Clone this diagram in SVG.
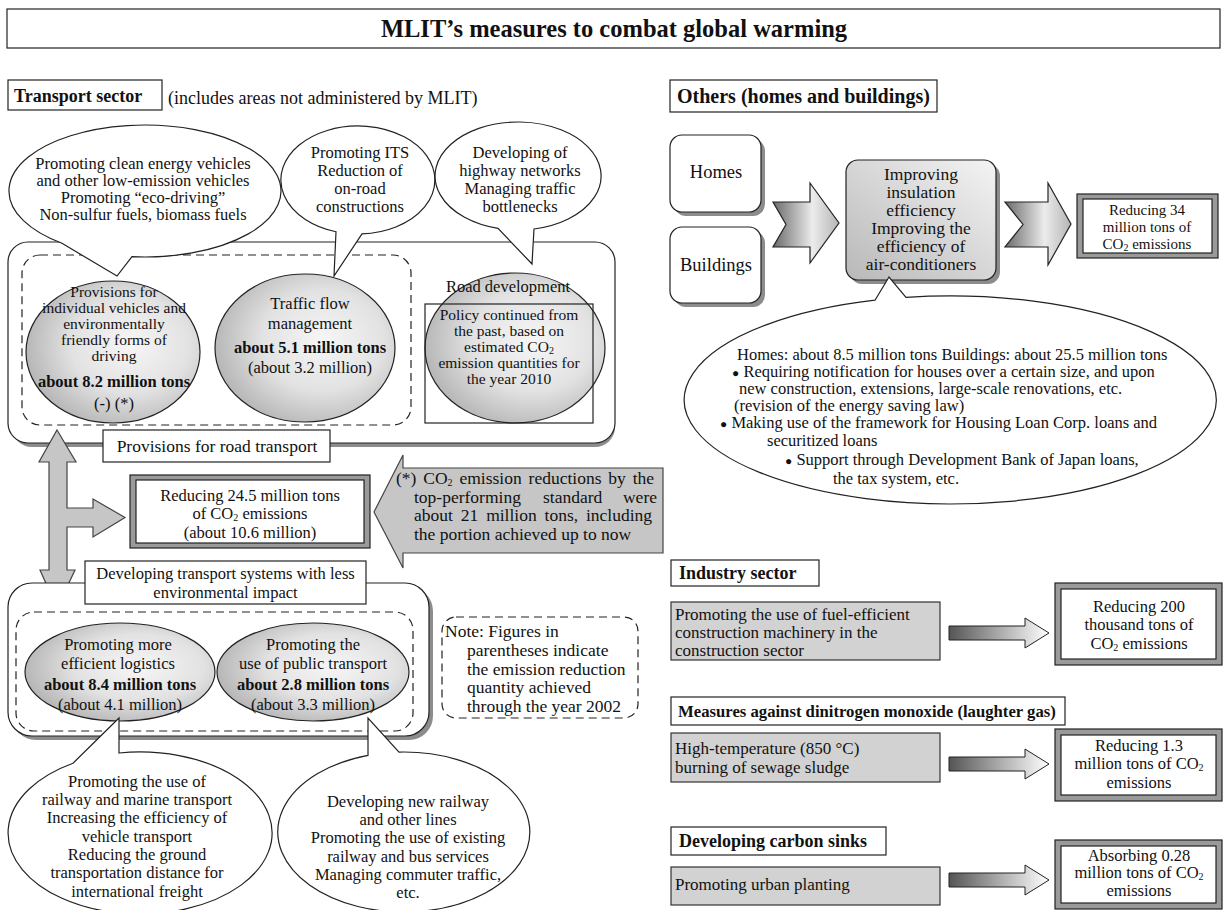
<svg xmlns="http://www.w3.org/2000/svg" width="1227" height="910" viewBox="0 0 1227 910">
<defs>
<radialGradient id="gCirc" cx="0.6" cy="0.45" r="0.62">
<stop offset="0" stop-color="#f6f6f6"/><stop offset="0.55" stop-color="#e2e2e2"/><stop offset="1" stop-color="#b4b4b4"/>
</radialGradient>
<linearGradient id="gBox" x1="1" y1="0" x2="0" y2="1">
<stop offset="0" stop-color="#f4f4f4"/><stop offset="1" stop-color="#b8b8b8"/>
</linearGradient>
<linearGradient id="gChev" x1="0" y1="0" x2="1" y2="0">
<stop offset="0" stop-color="#6a6a6a"/><stop offset="0.6" stop-color="#ececec"/><stop offset="1" stop-color="#b4b4b4"/>
</linearGradient>
<linearGradient id="gSmall" x1="0" y1="0" x2="1" y2="0">
<stop offset="0" stop-color="#555"/><stop offset="1" stop-color="#fff"/>
</linearGradient>
</defs>
<style>
text{font-family:"Liberation Serif","Times New Roman",serif;font-size:16.5px;fill:#111}
.b{font-weight:bold}
.h{font-weight:bold;font-size:18px}
.m{text-anchor:middle}
.t{font-size:15.5px}
.ln{fill:none;stroke:#222;stroke-width:1.2}
.box{fill:#fff;stroke:#222;stroke-width:1.2}
.sh{fill:#8c8c8c}
.dash{fill:none;stroke:#222;stroke-width:1.2;stroke-dasharray:8 5}
.circ{fill:url(#gCirc);stroke:#222;stroke-width:1.2}
.call{fill:#fff;stroke:#222;stroke-width:1.2}
.gray{fill:#d2d2d2;stroke:#333;stroke-width:1.2}
.frame{fill:#9a9a9a;stroke:#222;stroke-width:1.2}
.chev{fill:url(#gChev);stroke:#222;stroke-width:1.2}
.sarr{fill:url(#gSmall);stroke:#222;stroke-width:1}
.garr{fill:#c6c6c6;stroke:#444;stroke-width:1.2}
.sub{font-size:10px}
.big{font-size:17.5px}
</style>

<g id="title">
<rect class="box" x="7" y="9" width="1213" height="39"/>
<text class="b m" x="614" y="37" style="font-size:24.5px">MLIT’s measures to combat global warming</text>
</g>

<!-- ===== Transport sector ===== -->
<g id="transport-header">
<rect class="box" x="8" y="80" width="154" height="30"/>
<text class="h" x="14" y="102">Transport sector</text>
<text class="big" x="168" y="104" style="font-size:18px">(includes areas not administered by MLIT)</text>
</g>

<g id="road-group">
<rect class="sh" x="12" y="246" width="603" height="201" rx="20"/>
<rect class="box" x="8" y="242" width="607" height="201" rx="20"/>
<rect class="dash" x="22" y="255" width="389" height="170" rx="18"/>
</g>

<g id="circle-vehicles">
<ellipse class="circ" cx="113" cy="352" rx="87" ry="71"/>
<text class="m t" x="114" y="297">Provisions for</text>
<text class="m t" x="114" y="313">individual vehicles and</text>
<text class="m t" x="114" y="329">environmentally</text>
<text class="m t" x="114" y="345">friendly forms of</text>
<text class="m t" x="114" y="361">driving</text>
<text class="b m" x="114" y="387">about 8.2 million tons</text>
<text class="m" x="114" y="409">(-) (*)</text>
</g>

<g id="circle-traffic">
<ellipse class="circ" cx="305" cy="348" rx="90" ry="74"/>
<text class="m" x="310" y="309">Traffic flow</text>
<text class="m" x="310" y="329">management</text>
<text class="b m" x="310" y="353">about 5.1 million tons</text>
<text class="m" x="310" y="373">(about 3.2 million)</text>
</g>

<g id="circle-road">
<ellipse class="circ" cx="515" cy="348" rx="90" ry="75"/>
<text class="m" x="508" y="292">Road development</text>
<rect class="ln" x="425" y="304" width="168" height="119"/>
<text class="m t" x="509" y="320">Policy continued from</text>
<text class="m t" x="509" y="336">the past, based on</text>
<text class="m t" x="509" y="352">estimated CO<tspan class="sub" dy="2">2</tspan></text>
<text class="m t" x="509" y="368">emission quantities for</text>
<text class="m t" x="509" y="384">the year 2010</text>
</g>

<g id="callout-vehicles">
<path class="call" d="M132,256.7 A136,66 0 1 0 62,243.3 L117,276 Z"/>
<text class="m" x="143" y="169">Promoting clean energy vehicles</text>
<text class="m" x="143" y="186">and other low-emission vehicles</text>
<text class="m" x="143" y="203">Promoting “eco-driving”</text>
<text class="m" x="143" y="220">Non-sulfur fuels, biomass fuels</text>
</g>

<g id="callout-its">
<path class="call" d="M362,233.9 A77,54 0 1 0 336,231.75 L334,276 Z"/>
<text class="m" x="360" y="158">Promoting ITS</text>
<text class="m" x="360" y="176">Reduction of</text>
<text class="m" x="360" y="194">on-road</text>
<text class="m" x="360" y="212">constructions</text>
</g>

<g id="callout-highway">
<path class="call" d="M534,229 A83,54 0 1 0 498,228.4 L532,264 Z"/>
<text class="m" x="520" y="158">Developing of</text>
<text class="m" x="520" y="176">highway networks</text>
<text class="m" x="520" y="194">Managing traffic</text>
<text class="m" x="520" y="212">bottlenecks</text>
</g>

<g id="label-road">
<rect class="box" x="103" y="430" width="227" height="32"/>
<text class="m" x="217" y="452" style="font-size:17.5px">Provisions for road transport</text>
</g>

<g id="connectors">
<polygon class="garr" points="57,430 76,462 67,462 67,508 93,508 93,499 125,517.5 93,537 93,527 67,527 67,570 75,570 57,608 40,570 49,570 49,462 39,462"/>
<polygon class="garr" points="374,512 403,455 403,468 663,468 663,553 403,553 403,568"/>
<polygon class="chev" points="773,202 810,202 810,183 839,223 810,263 810,247 773,247 786,224.5"/>
<polygon class="chev" points="1005,202 1048,202 1048,183 1071,224 1048,265 1048,247 1005,247 1023,224.5"/>
<polygon class="sarr" points="949,626 1025,626 1025,618 1049,633 1025,648 1025,640 949,640"/>
<polygon class="sarr" points="949,757 1025,757 1025,749 1049,764 1025,779 1025,771 949,771"/>
<polygon class="sarr" points="949,873 1025,873 1025,865 1049,880 1025,895 1025,887 949,887"/>
</g>

<g id="total-transport">
<rect class="frame" x="130" y="475" width="240" height="73"/>
<rect class="box" x="136" y="480" width="228" height="63"/>
<text class="m" x="250" y="501">Reducing 24.5 million tons</text>
<text class="m" x="250" y="519">of CO<tspan class="sub" dy="2">2</tspan><tspan dy="-2"> emissions</tspan></text>
<text class="m" x="250" y="538">(about 10.6 million)</text>
</g>

<g id="note-star">
<text class="big" x="396" y="484" style="word-spacing:2.5px">(*) CO<tspan class="sub" dy="2">2</tspan><tspan dy="-2"> emission reductions by the</tspan></text>
<text class="big" x="414" y="502.5">top-performing</text>
<text class="big" x="543" y="502.5">standard</text>
<text class="big" x="657" y="502.5" style="text-anchor:end">were</text>
<text class="big" x="414" y="521" style="word-spacing:3.5px">about 21 million tons, including</text>
<text class="big" x="414" y="539.5">the portion achieved up to now</text>
</g>

<g id="lowimpact-group">
<rect class="sh" x="12" y="587" width="421" height="153" rx="24"/>
<rect class="box" x="8" y="583" width="421" height="153" rx="24"/>
<rect class="dash" x="16" y="612" width="397" height="119" rx="18"/>
</g>

<g id="label-lowimpact">
<rect class="box" x="85" y="561" width="281" height="43"/>
<text class="m" x="225.5" y="579">Developing transport systems with less</text>
<text class="m" x="225.5" y="598">environmental impact</text>
</g>

<g id="ellipse-logistics">
<ellipse class="circ" cx="120" cy="672" rx="95" ry="49"/>
<text class="m" x="118" y="650">Promoting more</text>
<text class="m" x="118" y="669">efficient logistics</text>
<text class="b m" x="120" y="690">about 8.4 million tons</text>
<text class="m" x="120" y="710">(about 4.1 million)</text>
</g>

<g id="ellipse-public">
<ellipse class="circ" cx="313" cy="672" rx="96" ry="49"/>
<text class="m" x="313" y="650">Promoting the</text>
<text class="m" x="313" y="669">use of public transport</text>
<text class="b m" x="313" y="690">about 2.8 million tons</text>
<text class="m" x="313" y="710">(about 3.3 million)</text>
</g>

<g id="note-figures">
<rect class="dash" x="442" y="617" width="196" height="101" rx="14"/>
<text class="big" x="445" y="637">Note: Figures in</text>
<text class="big" x="467" y="656">parentheses indicate</text>
<text class="big" x="467" y="674.5">the emission reduction</text>
<text class="big" x="467" y="693">quantity achieved</text>
<text class="big" x="467" y="711.5">through the year 2002</text>
</g>

<g id="callout-logistics">
<path class="call" d="M73,763.2 A132,81 0 1 0 119,753 L119,718 Z"/>
<text class="m" x="137" y="787">Promoting the use of</text>
<text class="m" x="137" y="805">railway and marine transport</text>
<text class="m" x="137" y="823">Increasing the efficiency of</text>
<text class="m" x="137" y="842">vehicle transport</text>
<text class="m" x="137" y="860">Reducing the ground</text>
<text class="m" x="137" y="878">transportation distance for</text>
<text class="m" x="137" y="897">international freight</text>
</g>

<g id="callout-public">
<path class="call" d="M399,752.06 A126,80 0 1 1 368,755.3 L368,718 Z"/>
<text class="m" x="408" y="807">Developing new railway</text>
<text class="m" x="408" y="825">and other lines</text>
<text class="m" x="408" y="843">Promoting the use of existing</text>
<text class="m" x="408" y="862">railway and bus services</text>
<text class="m" x="408" y="880">Managing commuter traffic,</text>
<text class="m" x="408" y="898">etc.</text>
</g>

<!-- ===== Right column ===== -->
<g id="others-header">
<rect class="box" x="670" y="80" width="267" height="32"/>
<text class="h" x="677" y="103" style="font-size:20px">Others (homes and buildings)</text>
</g>

<g id="homes">
<rect class="sh" x="674" y="139" width="91" height="77" rx="12"/>
<rect class="box" x="670" y="135" width="91" height="77" rx="12"/>
<text class="m" x="716" y="178" style="font-size:18.5px">Homes</text>
</g>

<g id="buildings">
<rect class="sh" x="674" y="231" width="91" height="76" rx="12"/>
<rect class="box" x="670" y="227" width="91" height="76" rx="12"/>
<text class="m" x="716" y="271" style="font-size:18.5px">Buildings</text>
</g>

<g id="insulation">
<rect class="sh" x="850" y="164" width="150" height="120" rx="12"/>
<rect x="846" y="160" width="150" height="120" rx="12" style="fill:url(#gBox);stroke:#222;stroke-width:1.2"/>
<text class="m big" x="921" y="180">Improving</text>
<text class="m big" x="921" y="198">insulation</text>
<text class="m big" x="921" y="216">efficiency</text>
<text class="m big" x="921" y="234">Improving the</text>
<text class="m big" x="921" y="252">efficiency of</text>
<text class="m big" x="921" y="270">air-conditioners</text>
</g>

<g id="total-homes">
<rect class="frame" x="1077" y="194" width="141" height="64"/>
<rect class="box" x="1083" y="199" width="129" height="54"/>
<text class="m" x="1147" y="215" style="font-size:15px">Reducing 34</text>
<text class="m" x="1147" y="232" style="font-size:15px">million tons of</text>
<text class="m" x="1147" y="249" style="font-size:15px">CO<tspan class="sub" dy="2">2</tspan><tspan dy="-2"> emissions</tspan></text>
</g>

<g id="callout-homes">
<path class="call" d="M875,300.2 A266,104 0 1 0 906,297.4 L889,277 Z"/>
<text x="737" y="360">Homes: about 8.5 million tons Buildings: about 25.5 million tons</text>
<text x="732" y="377"><tspan style="font-size:12px">●</tspan> Requiring notification for houses over a certain size, and upon</text>
<text x="739" y="394">new construction, extensions, large-scale renovations, etc.</text>
<text x="734" y="411">(revision of the energy saving law)</text>
<text x="720" y="428"><tspan style="font-size:12px">●</tspan> Making use of the framework for Housing Loan Corp. loans and</text>
<text x="767" y="446">securitized loans</text>
<text x="785" y="465"><tspan style="font-size:12px">●</tspan> Support through Development Bank of Japan loans,</text>
<text x="833" y="484">the tax system, etc.</text>
</g>

<g id="industry-header">
<rect class="box" x="671" y="560" width="148" height="26"/>
<text class="h" x="679" y="579">Industry sector</text>
</g>
<g id="industry-measure">
<rect class="gray" x="671" y="602" width="269" height="58"/>
<text x="675" y="620" style="font-size:17px">Promoting the use of fuel-efficient</text>
<text x="675" y="638" style="font-size:17px">construction machinery in the</text>
<text x="675" y="656" style="font-size:17px">construction sector</text>
</g>
<g id="total-industry">
<rect class="frame" x="1055" y="583" width="167" height="82"/>
<rect class="box" x="1061" y="589" width="155" height="70"/>
<text class="m" x="1139" y="612">Reducing 200</text>
<text class="m" x="1139" y="630">thousand tons of</text>
<text class="m" x="1139" y="649">CO<tspan class="sub" dy="2">2</tspan><tspan dy="-2"> emissions</tspan></text>
</g>

<g id="n2o-header">
<rect class="box" x="671" y="697" width="394" height="28"/>
<text class="h" x="678" y="717" style="font-size:16.7px">Measures against dinitrogen monoxide (laughter gas)</text>
</g>
<g id="n2o-measure">
<rect class="gray" x="671" y="733" width="269" height="49"/>
<text x="675" y="754" style="font-size:17px">High-temperature (850 °C)</text>
<text x="675" y="773" style="font-size:17px">burning of sewage sludge</text>
</g>
<g id="total-n2o">
<rect class="frame" x="1055" y="729" width="167" height="72"/>
<rect class="box" x="1061" y="735" width="155" height="60"/>
<text class="m" x="1139" y="751">Reducing 1.3</text>
<text class="m" x="1139" y="769">million tons of  CO<tspan class="sub" dy="2">2</tspan></text>
<text class="m" x="1139" y="788">emissions</text>
</g>

<g id="sinks-header">
<rect class="box" x="671" y="827" width="215" height="28"/>
<text class="h" x="679" y="847">Developing carbon sinks</text>
</g>
<g id="sinks-measure">
<rect class="gray" x="671" y="867" width="269" height="38"/>
<text x="675" y="890" style="font-size:17px">Promoting urban planting</text>
</g>
<g id="total-sinks">
<rect class="frame" x="1055" y="840" width="167" height="69"/>
<rect class="box" x="1061" y="846" width="155" height="57"/>
<text class="m" x="1139" y="861">Absorbing 0.28</text>
<text class="m" x="1139" y="878">million tons of CO<tspan class="sub" dy="2">2</tspan></text>
<text class="m" x="1139" y="896">emissions</text>
</g>
</svg>
